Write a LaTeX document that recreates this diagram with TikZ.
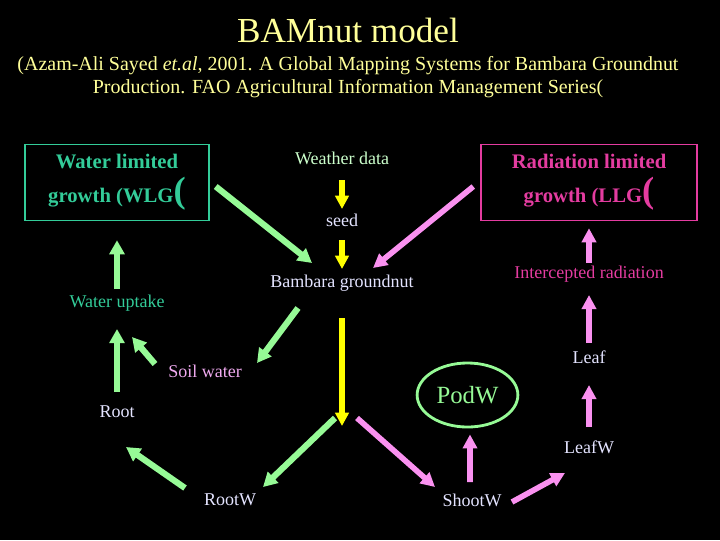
\documentclass[tikz,border=0pt]{standalone}
\usepackage{fontspec}
\setmainfont{Liberation Serif}
\usetikzlibrary{calc,shapes,arrows.meta}
\definecolor{titleyellow}{RGB}{255,255,153}
\definecolor{wlggreen}{RGB}{51,204,153}
\definecolor{llgpink}{RGB}{228,60,160}
\definecolor{arrgreen}{RGB}{150,250,150}
\definecolor{arryellow}{RGB}{255,255,0}
\definecolor{arrpink}{RGB}{250,145,240}
\definecolor{txtwhite}{RGB}{228,228,255}
\definecolor{wdgreen}{RGB}{204,255,204}
\definecolor{soilpink}{RGB}{240,170,240}

\begin{document}
\begin{tikzpicture}[x=0.025cm,y=-0.025cm,
    lbl/.style={text=txtwhite,font=\fontsize{12.8}{15}\selectfont,inner sep=1pt,text height=9pt,text depth=3pt},
    limbox/.style={draw,line width=1pt,align=center,minimum width=#1,minimum height=1.9cm,
        font=\fontsize{14.7}{24}\selectfont\bfseries},
    garrow/.style={draw=arrgreen,line width=4.4pt,-{Triangle[length=10pt,width=10.5pt]}},
    yarrow/.style={draw=arryellow,line width=4pt,-{Triangle[length=9.5pt,width=9.5pt]}},
    parrow/.style={draw=arrpink,line width=4pt,-{Triangle[length=10pt,width=10pt]}}]
    \fill[black] (0,0) rectangle (720,540);
    \useasboundingbox (0,0) rectangle (720,540);

    % heading
    \node[text=titleyellow,font=\fontsize{25}{30}\selectfont] (title) at (348,30) {BAMnut model};
    \node[text=titleyellow,align=center,font=\fontsize{14.2}{16.3}\selectfont] (source) at (348,77)
        {(Azam-Ali Sayed \textit{et.al}, 2001. A Global Mapping Systems for Bambara Groundnut\\
         Production. FAO Agricultural Information Management Series(};

    % the two limited growth boxes
    \node[limbox=4.6cm,draw=wlggreen,text=wlggreen] (wlg) at (117,182.5)
        {Water limited\\growth (WLG{\fontsize{26}{24}\selectfont(}};
    \node[limbox=5.4cm,draw=llgpink,text=llgpink] (llg) at (589,182.5)
        {Radiation limited\\growth (LLG{\fontsize{26}{24}\selectfont(}};

    % labels
    \node[lbl,text=wdgreen] (wd) at (342,160) {Weather data};
    \node[lbl] (seed) at (342,222) {seed};
    \node[lbl] (bam) at (342,283) {Bambara groundnut};
    \node[lbl,text=wlggreen] (wu) at (117,303) {Water uptake};
    \node[lbl,text=soilpink] (soil) at (205,373) {Soil water};
    \node[lbl] (root) at (117,413) {Root};
    \node[lbl] (rootw) at (230,501) {RootW};
    \node[lbl] (shootw) at (472,502) {ShootW};
    \node[ellipse,draw=arrgreen,line width=2pt,minimum width=2.3cm,minimum height=1.6cm,
        text=arrgreen,font=\fontsize{17.6}{20}\selectfont] (podw) at (467.5,395) {PodW};
    \node[lbl] (leafw) at (589,449) {LeafW};
    \node[lbl] (leaf) at (589,359) {Leaf};
    \node[lbl,text=llgpink] (ir) at (589,274) {Intercepted radiation};
    \coordinate (split) at (342,426);

    % weather and seed
    \draw[yarrow] ($(wd)+(0,20)$) -- ($(seed)+(0,-13)$);
    \draw[yarrow] ($(seed)+(0,18)$) -- ($(bam)+(0,-14)$);
    \draw[garrow] ($(wlg.east)+(6,4)$) -- ($(bam)+(-30,-20)$);
    \draw[parrow] ($(llg.west)+(-7,4)$) -- ($(bam)+(31,-15)$);
    \draw[yarrow] ($(bam)+(0,35)$) -- (split);

    % water side
    \draw[garrow] ($(bam)+(-44,25)$) -- ($(soil)+(52,-10)$);
    \draw[garrow] ($(soil)+(-50,-9)$) -- ($(wu)+(15,34)$);
    \draw[garrow] ($(root)+(0,-21)$) -- ($(wu)+(0,26)$);
    \draw[garrow] ($(wu)+(0,-14)$) -- ($(wlg.south)+(0,19)$);
    \draw[garrow] ($(split)+(-7,-8)$) -- ($(rootw)+(33,-14)$);
    \draw[garrow] ($(rootw)+(-45,-13)$) -- ($(root)+(9,34)$);

    % radiation side
    \draw[parrow] ($(split)+(15,-8)$) -- ($(shootw)+(-37,-15)$);
    \draw[parrow] ($(shootw)+(-2,-20)$) -- ($(podw.south)+(2.5,6)$);
    \draw[parrow] ($(shootw)+(40,0)$) -- ($(leafw)+(-24,24)$);
    \draw[parrow] ($(leafw)+(0,-22)$) -- ($(leaf)+(0,26)$);
    \draw[parrow] ($(leaf)+(0,-16)$) -- ($(ir)+(0,21)$);
    \draw[parrow] ($(ir)+(0,-11)$) -- ($(llg.south)+(0,7)$);
\end{tikzpicture}
\end{document}
